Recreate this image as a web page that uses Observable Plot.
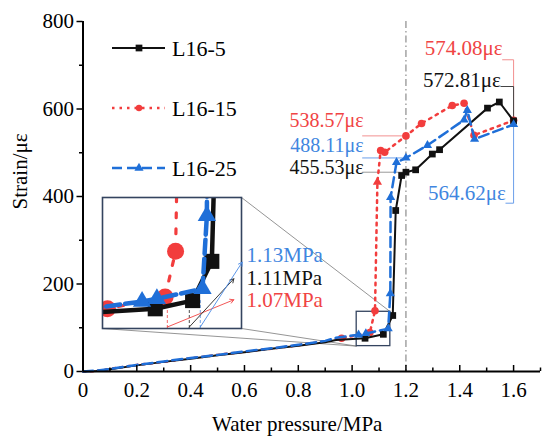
<!DOCTYPE html>
<html><head><meta charset="utf-8">
<script src="https://cdn.jsdelivr.net/npm/d3@7"></script>
<script src="https://cdn.jsdelivr.net/npm/@observablehq/plot@0.6"></script>
<style>
body{margin:0;background:#fff;}
#wrap{position:relative;width:550px;height:445px;font-family:"Liberation Serif",serif;}
#inset{position:absolute;left:102px;top:197px;}
</style></head><body><div id="wrap"><div id="main"></div><div id="inset"></div></div>
<script>
// ---------------- data ----------------
const seriesNames = ["L16-5", "L16-15", "L16-25"];

const pressure5  = [0,0.05,0.1,0.2,0.3,0.4,0.5,0.6,0.7,0.8,0.9,0.94,1.048,1.116,1.151,1.162,1.184,1.2,1.236,1.298,1.325,1.503,1.547,1.6];
const strain5    = [0,1,5,14,22,29,37,44,52,59,67,72,76,85,128,368,448,455.53,461,497,507,602,616,572.81];

const pressure15 = [0,0.05,0.1,0.2,0.3,0.4,0.5,0.6,0.7,0.8,0.9,0.961,1.066,1.085,1.094,1.106,1.121,1.2,1.258,1.372,1.416,1.453,1.6];
const strain15   = [0,1,6,15,22,30,38,45,52,60,69,76,89,139,433,505,501,538.57,567,608,613,540,574.08];

const pressure25 = [0,0.05,0.1,0.2,0.3,0.4,0.5,0.6,0.7,0.8,0.9,0.94,1.024,1.051,1.134,1.142,1.143,1.165,1.2,1.28,1.416,1.428,1.455,1.6];
const strain25   = [0,2,6,15,23,31,38,46,53,61,70,77,84,87,98,178,398,478,488.11,517,575,597,531,564.62];

// arrowhead drawn on the L16-15 jump
const arrowSeries = ["L16-15"];
const arrowPressure = [1.094];
const arrowStrain = [433];

// value annotations
const noteLabels   = ["538.57με","488.11με","455.53με","574.08με","572.81με","564.62με"];
const noteSeries   = ["L16-15","L16-25","L16-5","L16-15","L16-5","L16-25"];
const notePressure = [1.2,1.2,1.2,1.6,1.6,1.6];
const noteStrain   = [538.57,488.11,455.53,574.08,572.81,564.62];

// inset pressure labels
const dropLabels   = ["1.07MPa","1.11MPa","1.13MPa"];
const dropSeries   = ["L16-15","L16-5","L16-25"];
const dropPressure = [1.07,1.11,1.13];
const dropStrain   = [79,83,85];

// ticks
const xMajor = [0,0.2,0.4,0.6,0.8,1.0,1.2,1.4,1.6];
const xMinor = [0.1,0.3,0.5,0.7,0.9,1.1,1.3,1.5,1.7];
const yMajor = [0,200,400,600,800];
const yMinor = [100,300,500,700];
const xTickLabels = ["0","0.2","0.4","0.6","0.8","1.0","1.2","1.4","1.6"];

// ---------------- layout / style ----------------
const W = 550, H = 445;
const M = {left: 82.5, right: 10, top: 21, bottom: 74};
const xDomain = [0, 1.7], yDomain = [0, 800];
const fw = W - M.left - M.right, fh = H - M.top - M.bottom;
const toX = px => xDomain[0] + (px - M.left) / fw * (xDomain[1] - xDomain[0]);
const toY = py => yDomain[0] + (H - M.bottom - py) / fh * (yDomain[1] - yDomain[0]);
const pxX = fw / (xDomain[1] - xDomain[0]);

const FONT = "Liberation Serif";
const sty = {
  "L16-5":  {color:"#111111", text:"#111111", lead:"#9a9a9a", leadR:"#444444", arrow:"#222222", symbol:"square",   dash:null,    width:2,   r:3.8, iw:4.5, idash:null,   ir:8.5},
  "L16-15": {color:"#f23d3d", text:"#f04444", lead:"#f29090", leadR:"#f29090", arrow:"#f04444", symbol:"circle",   dash:"2.5,5", width:2.5, r:3.8, iw:3.2, idash:"5,11", ir:8.5},
  "L16-25": {color:"#1f6fd8", text:"#3f86e0", lead:"#6b9fea", leadR:"#6b9fea", arrow:"#4a8ae4", symbol:"triangle", dash:"10,5",  width:2.5, r:3.4, iw:4.5, idash:"14,5", ir:6.8}
};
const drawOrder = ["L16-15", "L16-5", "L16-25"];
const markerFrom = 0.95;

const rows = [];
[[pressure5, strain5], [pressure15, strain15], [pressure25, strain25]].forEach(([P, S], k) => {
  P.forEach((p, i) => rows.push({series: seriesNames[k], pressure: p, strain: S[i]}));
});
const arrows = arrowSeries.map((s, i) => ({series: s, pressure: arrowPressure[i], strain: arrowStrain[i]}));
const isArrow = d => arrows.some(a => a.series === d.series && a.pressure === d.pressure);
const notes = noteLabels.map((t, i) => ({label: t, series: noteSeries[i], pressure: notePressure[i], strain: noteStrain[i]}));
const noteLayout = [
  {side:"left", dy:-9, fs:20}, {side:"left", dy:-6, fs:20}, {side:"left", dy:2, fs:20},
  {side:"right", level:712.5, dx:-11,   dy:-5, fs:21},
  {side:"right", level:651.4, dx:-12.7, dy:0, fs:21},
  {side:"right", level:384.7, dx:-7.7,  dy:-3.4, fs:21}
];
notes.forEach((n, i) => Object.assign(n, noteLayout[i]));

// inset placement and zoom box
const insetPos = {left:102, top:197, width:139, height:131};
const zoomBox = {x1:1.017, x2:1.142, y1:58, y2:136.5};
const connectors = [
  {x1: toX(insetPos.left + insetPos.width), y1: toY(insetPos.top), x2: zoomBox.x2, y2: zoomBox.y2},
  {x1: toX(insetPos.left), y1: toY(insetPos.top + insetPos.height), x2: zoomBox.x1, y2: zoomBox.y1},
  {x1: toX(insetPos.left + insetPos.width), y1: toY(insetPos.top + insetPos.height), x2: zoomBox.x1, y2: zoomBox.y1}
];

// ---------------- main plot ----------------
const marks = [
  Plot.ruleX([1.2], {stroke:"#8c8c8c", strokeWidth:1.2, strokeDasharray:"7,3,1.5,3"}),
  Plot.link(connectors, {x1:"x1", y1:"y1", x2:"x2", y2:"y2", stroke:"#7a7a7a", strokeWidth:0.8}),
  Plot.rect([zoomBox], {x1:"x1", x2:"x2", y1:"y1", y2:"y2", fill:"none", stroke:"#34445f", strokeWidth:1.3})
];
notes.filter(n => n.side === "left").forEach(n => {
  marks.push(Plot.link([n], {x1: () => toX(361.7), x2: "pressure", y1: "strain", y2: "strain", stroke: sty[n.series].lead, strokeWidth: 1}));
});
notes.filter(n => n.side === "right").forEach(n => {
  const x0 = n.pressure + n.dx / pxX;
  const pts = n.level > n.strain
    ? [[x0, n.level], [n.pressure, n.level], [n.pressure, n.strain]]
    : [[n.pressure, n.strain], [n.pressure, n.level], [x0, n.level]];
  marks.push(Plot.line(pts, {x: d => d[0], y: d => d[1], stroke: sty[n.series].leadR, strokeWidth: 1}));
});
drawOrder.forEach(name => {
  const s = sty[name];
  const data = rows.filter(d => d.series === name);
  marks.push(Plot.line(data, {x:"pressure", y:"strain", stroke:s.color, strokeWidth:s.width, strokeDasharray:s.dash}));
  marks.push(Plot.dot(data.filter(d => d.pressure >= markerFrom && !isArrow(d)), {x:"pressure", y:"strain", symbol:s.symbol, r:s.r, fill:s.color, stroke:"none"}));
  marks.push(Plot.dot(arrows.filter(d => d.series === name), {x:"pressure", y:"strain", symbol:"triangle", r:3.4, fill:s.color}));
});
notes.forEach(n => {
  marks.push(Plot.text([n], {
    x: "pressure", y: n.side === "left" ? "strain" : "level", text: "label",
    dx: n.side === "left" ? -42.3 : n.dx, dy: n.dy,
    textAnchor: "end", lineAnchor: "bottom", fill: sty[n.series].text, fontSize: n.fs, fontFamily: FONT
  }));
});
marks.push(
  Plot.ruleY([0], {stroke:"#000", strokeWidth:2}),
  Plot.ruleX([0], {stroke:"#000", strokeWidth:2}),
  Plot.tickX(xMajor, {x: d => d, insetTop: fh - 6, stroke:"#000", strokeWidth:1.5}),
  Plot.tickX(xMinor, {x: d => d, insetTop: fh - 3.5, stroke:"#000", strokeWidth:1.5}),
  Plot.axisX({ticks: xMajor, tickSize: 0, tickPadding: 11, tickFormat: d => xTickLabels[xMajor.indexOf(d)], label: null, fontSize: 21, fontFamily: FONT, fill:"#000"}),
  Plot.axisY({ticks: yMajor, tickSize: 6, tickPadding: 3, strokeWidth: 1.5, label: null, fontSize: 21, fontFamily: FONT, fill:"#000"}),
  Plot.axisY({ticks: yMinor, tickSize: 3.5, tickPadding: 3, strokeWidth: 1.5, label: null, tickFormat: () => ""}),
  Plot.text(["Water pressure/MPa"], {frameAnchor:"bottom", dx:-14.5, dy:59, lineAnchor:"bottom", fontSize:21, fontFamily:FONT, fill:"#000"}),
  Plot.text(["Strain/με"], {frameAnchor:"left", dx:-63, dy:13, rotate:-90, lineAnchor:"middle", fontSize:21, fontFamily:FONT, fill:"#000"})
);

const main = Plot.plot({
  width: W, height: H,
  marginLeft: M.left, marginRight: M.right, marginTop: M.top, marginBottom: M.bottom,
  x: {domain: xDomain},
  y: {domain: yDomain},
  style: {fontFamily: FONT, fontSize: "21px", background: "white", color: "#000"},
  marks
});
document.getElementById("main").append(main);

// legend
const legend = d3.select(main).append("g").attr("text-anchor", "start");
seriesNames.forEach((name, i) => {
  const s = sty[name];
  const y = 48 + i * 60;
  legend.append("line").attr("x1", 112).attr("x2", 165).attr("y1", y).attr("y2", y)
    .attr("stroke", s.color).attr("stroke-width", s.width).attr("stroke-dasharray", s.dash);
  const sym = {square: d3.symbolSquare, circle: d3.symbolCircle, triangle: d3.symbolTriangle}[s.symbol];
  const rr = s.symbol === "circle" ? 3.2 : s.r;
  legend.append("path").attr("d", d3.symbol(sym, Math.PI * rr * rr)()).attr("transform", `translate(139,${y})`).attr("fill", s.color);
  legend.append("text").attr("x", 172).attr("y", y + 8).attr("text-anchor", "start")
    .attr("font-size", 22).attr("font-family", FONT).attr("fill", "#000").text(name);
});

// ---------------- inset ----------------
const insetX = [0.952, 1.205], insetY = [54.4, 198];
const ipx = insetPos.width / (insetX[1] - insetX[0]);
const ipy = insetPos.height / (insetY[1] - insetY[0]);
const drops = dropLabels.map((t, i) => ({label: t, series: dropSeries[i], pressure: dropPressure[i], strain: dropStrain[i]}));
const dropLayout = [
  {tipX:131.3, tipY:102.3, labX:144, labY:109.7},
  {tipX:131.3, tipY:81.3,  labX:144, labY:87.3},
  {tipX:139.7, tipY:64.7,  labX:144, labY:64.7}
];
drops.forEach((d, i) => {
  const L = dropLayout[i];
  d.tipP = insetX[0] + L.tipX / ipx; d.tipS = insetY[1] - L.tipY / ipy;
  d.labP = insetX[0] + L.labX / ipx; d.labS = insetY[1] - L.labY / ipy;
  d.base = insetY[0] + 1.5 / ipy;
});
const imarks = [Plot.frame({fill: "white", stroke: "none"})];
drops.forEach(d => {
  imarks.push(Plot.ruleX([d], {x: "pressure", y1: () => insetY[0], y2: "strain", stroke: sty[d.series].arrow, strokeOpacity: 0.8, strokeWidth: 1, strokeDasharray: "3,2"}));
});
drawOrder.forEach(name => {
  const s = sty[name];
  const data = rows.filter(d => d.series === name);
  imarks.push(Plot.line(data, {x:"pressure", y:"strain", stroke:s.color, strokeWidth:s.iw, strokeDasharray:s.idash, clip:true}));
  imarks.push(Plot.dot(data.filter(d => d.pressure >= markerFrom && !isArrow(d)), {x:"pressure", y:"strain", symbol:s.symbol, r:s.ir, fill:s.color, stroke:"none", clip:true}));
});
imarks.push(Plot.frame({stroke: "#34445f", strokeWidth: 1.6}));
drops.forEach(d => {
  imarks.push(Plot.arrow([d], {x1: "pressure", y1: "base", x2: "tipP", y2: "tipS", stroke: sty[d.series].arrow, strokeWidth: 0.9, headLength: 7}));
  imarks.push(Plot.text([d], {x: "labP", y: "labS", text: "label", textAnchor: "start", lineAnchor: "bottom", fill: sty[d.series].text, fontSize: 21, fontFamily: FONT}));
});
const insetSvg = Plot.plot({
  width: insetPos.width + 110, height: insetPos.height + 4,
  marginLeft: 0, marginTop: 0, marginRight: 110, marginBottom: 4,
  x: {domain: insetX, axis: null},
  y: {domain: insetY, axis: null},
  style: {background: "transparent", overflow: "visible", fontFamily: FONT},
  marks: imarks
});
document.getElementById("inset").append(insetSvg);
</script></body></html>
